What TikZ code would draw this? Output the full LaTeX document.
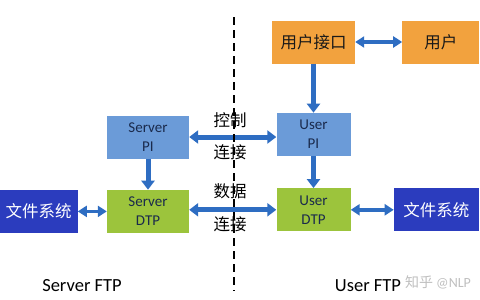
\documentclass[tikz,border=0pt]{standalone}
\usepackage{fontspec}
\setmainfont{Carlito}
\newfontfamily\cjk{Noto Sans CJK SC}
\usetikzlibrary{arrows.meta,positioning}
\definecolor{piblue}{HTML}{6B9BD8}
\definecolor{dtpgreen}{HTML}{9CC43C}
\definecolor{uiorange}{HTML}{F2A23E}
\definecolor{fsblue}{HTML}{2B3CBE}
\definecolor{arrblue}{HTML}{2E6DC2}
\definecolor{txtnavy}{HTML}{1A2A4C}

\begin{document}
\begin{tikzpicture}[x=1pt, y=-1pt,
   bloc/.style={inner sep=0pt, align=center, minimum height=43pt,
                text=txtnavy, font=\fontsize{15}{19}\selectfont},
   cjkbloc/.style={bloc, font=\cjk\fontsize{16.5}{20}\selectfont},
   fl/.style={-{Triangle[width=13pt,length=9pt]}, line width=5pt, arrblue},
   fld/.style={{Triangle[width=13pt,length=9pt]}-{Triangle[width=13pt,length=9pt]},
               line width=5pt, arrblue},
   fls/.style={{Triangle[width=11pt,length=9pt]}-{Triangle[width=11pt,length=9pt]},
               line width=3.5pt, arrblue},
   lbl/.style={inner sep=0pt, font=\cjk\fontsize{16.5}{20}\selectfont},
   side/.style={inner sep=0pt, font=\fontsize{18.5}{22}\selectfont}]
  \useasboundingbox (0,0) rectangle (480,300);
  % server side
  \node[bloc, fill=piblue, minimum width=82pt] (spi) at (148,137) {Server\\PI};
  \node[bloc, fill=dtpgreen, minimum width=82pt, below=31pt of spi] (sdtp) {Server\\DTP};
  \node[cjkbloc, fill=fsblue, text=white, minimum width=78pt, left=29pt of sdtp] (fsl) {文件系统};
  % user side
  \node[cjkbloc, fill=uiorange, text=black!90, minimum width=83pt] (uif) at (313.5,42) {用户接口};
  \node[cjkbloc, fill=uiorange, text=black!90, minimum width=77pt, right=47pt of uif] (usr) {用户};
  \node[bloc, fill=piblue, minimum width=74pt, below=49pt of uif] (upi) {User\\PI};
  \node[bloc, fill=dtpgreen, minimum width=74pt, below=32pt of upi] (udtp) {User\\DTP};
  \node[cjkbloc, fill=fsblue, text=white, minimum width=85pt, right=43pt of udtp] (fsr) {文件系统};
  % connectors
  \draw[fld] (spi.east) -- (spi.east -| upi.west);
  \draw[fld] (udtp.west -| sdtp.east) -- (udtp.west);
  \draw[fl] (spi) -- (sdtp);
  \draw[fl] (uif) -- (upi);
  \draw[fl] (upi) -- (udtp);
  \draw[fls] (fsl) -- (sdtp);
  \draw[fls] (udtp) -- (fsr);
  \draw[fls] (uif) -- (usr);
  % separator
  \coordinate (sept) at (233.5,17);
  \coordinate (sepb) at (233.5,291);
  \draw[line width=2pt, dash pattern=on 8pt off 5pt] (sept) -- (sepb);
  % labels
  \node[lbl] (ctl) at (230,120) {控制};
  \node[lbl] (cc) at (230,152) {连接};
  \node[lbl] (dat) at (230,191) {数据};
  \node[lbl] (dc) at (230,224) {连接};
  \node[side] (sftp) at (82,286) {Server FTP};
  \node[side] (uftp) at (368,286) {User FTP};
  \node[inner sep=0pt, text=black!25, font=\fontsize{14}{16}\selectfont] (wm) at (438,282)
       {{\cjk 知乎} @NLP};
\end{tikzpicture}
\end{document}
